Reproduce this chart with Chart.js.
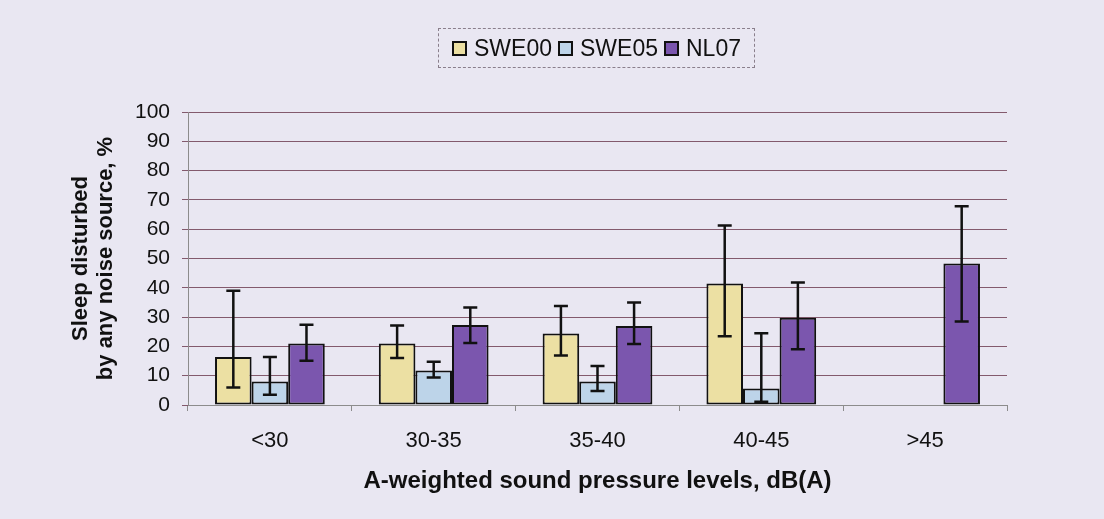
<!DOCTYPE html>
<html>
<head>
<meta charset="utf-8">
<script src="https://cdn.jsdelivr.net/npm/chart.js@4.4.0/dist/chart.umd.min.js"></script>
<style>
  html, body { margin: 0; padding: 0; background: #e9e7f2; }
  #wrap { position: relative; width: 1104px; height: 519px; }
  #legend {
    position: absolute; left: 438px; top: 28px; width: 317px; height: 40px;
    border: 1px dashed #8a7f8c; box-sizing: border-box;
    display: flex; align-items: center; justify-content: center;
    font-family: "Liberation Sans", Arial, sans-serif; font-size: 23px; color: #111;
  }
  #legend span.item { display: flex; align-items: center; margin: 0 3px; }
  #legend span.sw { width: 11px; height: 11px; border: 2px solid #111; margin-right: 7px; }
</style>
</head>
<body>
<div id="wrap">
  <canvas id="chart" width="1104" height="519"></canvas>
  <div id="legend"></div>
</div>
<script>
// categories and series (percent)
const categories = ['<30', '30-35', '35-40', '40-45', '>45'];
const seriesNames = ['SWE00', 'SWE05', 'NL07'];
const swe00 = [16.4, 21.0, 24.4, 41.5, null];
const swe05 = [8.0, 11.8, 8.0, 5.6, null];
const nl07 = [21.0, 27.3, 27.0, 29.8, 48.3];
// 95% CI limits
const swe00Low = [6.0, 16.0, 16.9, 23.5, null];
const swe00High = [39.0, 27.1, 33.8, 61.3, null];
const swe05Low = [3.5, 9.4, 4.8, 1.1, null];
const swe05High = [16.4, 14.8, 13.3, 24.5, null];
const nl07Low = [15.1, 21.2, 20.8, 19.0, 28.5];
const nl07High = [27.4, 33.3, 35.0, 41.8, 67.8];
const yTicks = [0, 10, 20, 30, 40, 50, 60, 70, 80, 90, 100];

const colors = ['#ece0a3', '#bdd4e9', '#7b56ae'];
const lows = [swe00Low, swe05Low, nl07Low];
const highs = [swe00High, swe05High, nl07High];

// html legend with a dashed frame like the original
const legendEl = document.getElementById('legend');
seriesNames.forEach((name, i) => {
    const item = document.createElement('span');
    item.className = 'item';
    const sw = document.createElement('span');
    sw.className = 'sw';
    sw.style.background = colors[i];
    item.appendChild(sw);
    item.appendChild(document.createTextNode(name));
    legendEl.appendChild(item);
});

// draws the confidence intervals on top of the bars
const errorBars = {
    id: 'errorBars',
    afterDatasetsDraw(chart) {
        const ctx = chart.ctx;
        const y = chart.scales.y;
        ctx.save();
        ctx.strokeStyle = '#111';
        ctx.lineWidth = 2.5;
        chart.data.datasets.forEach((ds, di) => {
            const meta = chart.getDatasetMeta(di);
            meta.data.forEach((bar, i) => {
                const lo = lows[di][i], hi = highs[di][i];
                if (lo == null || hi == null) return;
                const x = bar.x;
                const yl = y.getPixelForValue(lo);
                const yh = y.getPixelForValue(hi);
                ctx.beginPath();
                ctx.moveTo(x, yl); ctx.lineTo(x, yh);
                ctx.moveTo(x - 7, yl); ctx.lineTo(x + 7, yl);
                ctx.moveTo(x - 7, yh); ctx.lineTo(x + 7, yh);
                ctx.stroke();
            });
        });
        ctx.restore();
    }
};

const font = 'Liberation Sans, Arial, sans-serif';

new Chart(document.getElementById('chart'), {
    type: 'bar',
    data: {
        labels: categories,
        datasets: [
            { label: seriesNames[0], data: swe00, backgroundColor: colors[0] },
            { label: seriesNames[1], data: swe05, backgroundColor: colors[1] },
            { label: seriesNames[2], data: nl07, backgroundColor: colors[2] }
        ].map(d => Object.assign(d, {
            borderColor: '#111',
            borderWidth: 2,
            borderSkipped: false,
            barPercentage: 1,
            categoryPercentage: 0.67
        }))
    },
    options: {
        responsive: false,
        animation: false,
        layout: { padding: { left: 64, right: 97, top: 112, bottom: 19 } },
        plugins: {
            legend: { display: false },
            tooltip: { enabled: false }
        },
        scales: {
            x: {
                grid: { drawOnChartArea: false, drawTicks: true, tickLength: 6, color: '#8c8c8c' },
                border: { color: '#8c8c8c', width: 1 },
                ticks: { color: '#111', padding: 17, font: { family: font, size: 22 } },
                title: {
                    display: true,
                    text: 'A-weighted sound pressure levels, dB(A)',
                    color: '#111',
                    font: { family: font, size: 24, weight: 'bold' }
                },
                afterFit(scale) { scale.height = 95; }
            },
            y: {
                min: 0,
                max: 100,
                afterBuildTicks(scale) { scale.ticks = yTicks.map(v => ({ value: v })); },
                grid: { color: 'rgba(105,55,75,0.8)', lineWidth: 1, tickLength: 6 },
                border: { color: '#8c8c8c', width: 1 },
                ticks: { color: '#111', padding: 12, font: { family: font, size: 21 } },
                title: {
                    display: true,
                    text: ['Sleep disturbed', 'by any noise source, %'],
                    color: '#111',
                    font: { family: font, size: 22, weight: 'bold', lineHeight: 1.15 }
                },
                afterFit(scale) { scale.width = 124; }
            }
        }
    },
    plugins: [errorBars]
});
</script>
</body>
</html>
